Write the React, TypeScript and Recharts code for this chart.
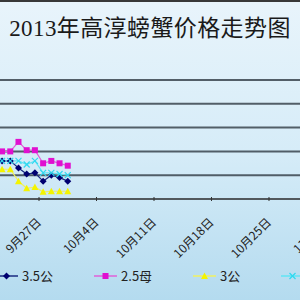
import { CartesianGrid, Line, LineChart, XAxis, YAxis } from "recharts";

// day index 0 = 9月22日, one point per day
const dayIndex = [0, 1, 2, 3, 4, 5, 6, 7, 8];
const male35 = [32, 32, 26, 21, 22, 15, 20, 18, 15];
const female25 = [40, 40, 48, 41, 41, 30, 32, 30, 28];
const male3 = [25, 25, 15, 9, 10, 6, 6.5, 6.5, 6.5];
const female4 = [32, 32, 32, 29, 32, 22, 22, 21, 20];

const tickLabels = ["9月27日", "10月4日", "10月11日", "10月18日", "10月25日", "11月1日"];
const yTicks = [0, 10, 20, 30, 40, 50, 60, 70, 80, 90, 100];

const SERIES = [
  { key: "male35", name: "3.5公", color: "#000070", line: "#1a2a80", shape: "diamond" },
  { key: "female25", name: "2.5母", color: "#e010d0", line: "#e060d8", shape: "square" },
  { key: "male3", name: "3公", color: "#f4f400", line: "#f0f060", shape: "triangle" },
  { key: "female4", name: "4母", color: "#30d8f0", line: "#60e4f4", shape: "x" },
];

const chartData = dayIndex.map((d, i) => ({
  day: d,
  male35: male35[i],
  female25: female25[i],
  male3: male3[i],
  female4: female4[i],
}));

const tickPositions = tickLabels.map((_, i) => 4.5 + 7 * i);

function Marker({ cx, cy, shape, color }: { cx: number; cy: number; shape: string; color: string }) {
  if (cx == null || cy == null) return null;
  if (shape === "diamond") {
    return <polygon points={`${cx},${cy - 3.5} ${cx + 3.5},${cy} ${cx},${cy + 3.5} ${cx - 3.5},${cy}`} fill={color} />;
  }
  if (shape === "square") {
    return <rect x={cx - 3} y={cy - 3} width={6} height={6} fill={color} />;
  }
  if (shape === "triangle") {
    return <polygon points={`${cx},${cy - 3.5} ${cx + 3.5},${cy + 3} ${cx - 3.5},${cy + 3}`} fill={color} />;
  }
  return (
    <g stroke={color} strokeWidth={1.2}>
      <line x1={cx - 3} y1={cy - 3} x2={cx + 3} y2={cy + 3} />
      <line x1={cx - 3} y1={cy + 3} x2={cx + 3} y2={cy - 3} />
    </g>
  );
}

function DateTick({ x, y, payload }: any) {
  const idx = tickPositions.indexOf(payload.value);
  return (
    <g>
      <line x1={x} y1={y - 4} x2={x} y2={y} stroke="#333" />
      <text
        x={x + 3}
        y={y + 22}
        textAnchor="end"
        transform={`rotate(-45 ${x + 3} ${y + 22})`}
        fontSize={12}
        fill="#222"
        fontFamily="'Noto Sans CJK SC', sans-serif"
      >
        {tickLabels[idx]}
      </text>
    </g>
  );
}

function ChartLegend() {
  return (
    <div
      style={{
        position: "absolute",
        left: -5,
        top: 266,
        display: "flex",
        alignItems: "center",
        whiteSpace: "nowrap",
      }}
    >
      {SERIES.map((s) => (
        <div key={s.key} style={{ display: "flex", alignItems: "center", marginRight: 41 }}>
          <svg width={23} height={12}>
            <line x1={0} y1={6} x2={23} y2={6} stroke={s.line} strokeWidth={1.5} />
            <Marker cx={11.5} cy={6} shape={s.shape} color={s.color} />
          </svg>
          <span
            style={{
              marginLeft: 4,
              fontSize: 13,
              lineHeight: "16px",
              color: "#222",
              fontFamily: "'Noto Sans CJK SC', sans-serif",
            }}
          >
            {s.name}
          </span>
        </div>
      ))}
    </div>
  );
}

export default function App() {
  return (
    <div
      style={{
        position: "fixed",
        left: 0,
        top: 0,
        width: 300,
        height: 300,
        overflow: "hidden",
        background: "linear-gradient(to bottom, #e8f4fb 0%, #d6ecf8 50%, #b4dbef 100%)",
        borderTop: "2px solid #383838",
        boxSizing: "border-box",
      }}
    >
      <div
        style={{
          position: "absolute",
          top: 15,
          left: 0,
          width: 300,
          textAlign: "center",
          fontSize: 23,
          lineHeight: "23px",
          color: "#1a1a1a",
          fontFamily: "'Liberation Serif', 'Noto Sans CJK SC', serif",
          letterSpacing: 0.4,
        }}
      >
        2013年高淳螃蟹价格走势图
      </div>
      <div style={{ position: "absolute", left: 0, top: -2 }}>
        <LineChart
          width={360}
          height={300}
          data={chartData}
          margin={{ top: 80, right: 0, bottom: 71, left: 0 }}
        >
          <CartesianGrid vertical={false} stroke="#3a444d" strokeWidth={2} strokeOpacity={0.85} />
          <XAxis
            dataKey="day"
            type="number"
            height={30}
            domain={[-0.25, 43.58]}
            ticks={tickPositions}
            tick={<DateTick />}
            tickLine={false}
            tickSize={0}
            axisLine={{ stroke: "#555", strokeWidth: 1 }}
            interval={0}
            allowDataOverflow
          />
          <YAxis hide domain={[0, 100]} ticks={yTicks} />
          {SERIES.map((s) => (
            <Line
              key={s.key}
              dataKey={s.key}
              name={s.name}
              type="linear"
              stroke={s.line}
              strokeWidth={1.2}
              dot={(p: any) => <Marker key={`${s.key}-${p.index}`} cx={p.cx} cy={p.cy} shape={s.shape} color={s.color} />}
              activeDot={false}
              isAnimationActive={false}
            />
          ))}
        </LineChart>
      </div>
      <ChartLegend />
    </div>
  );
}
